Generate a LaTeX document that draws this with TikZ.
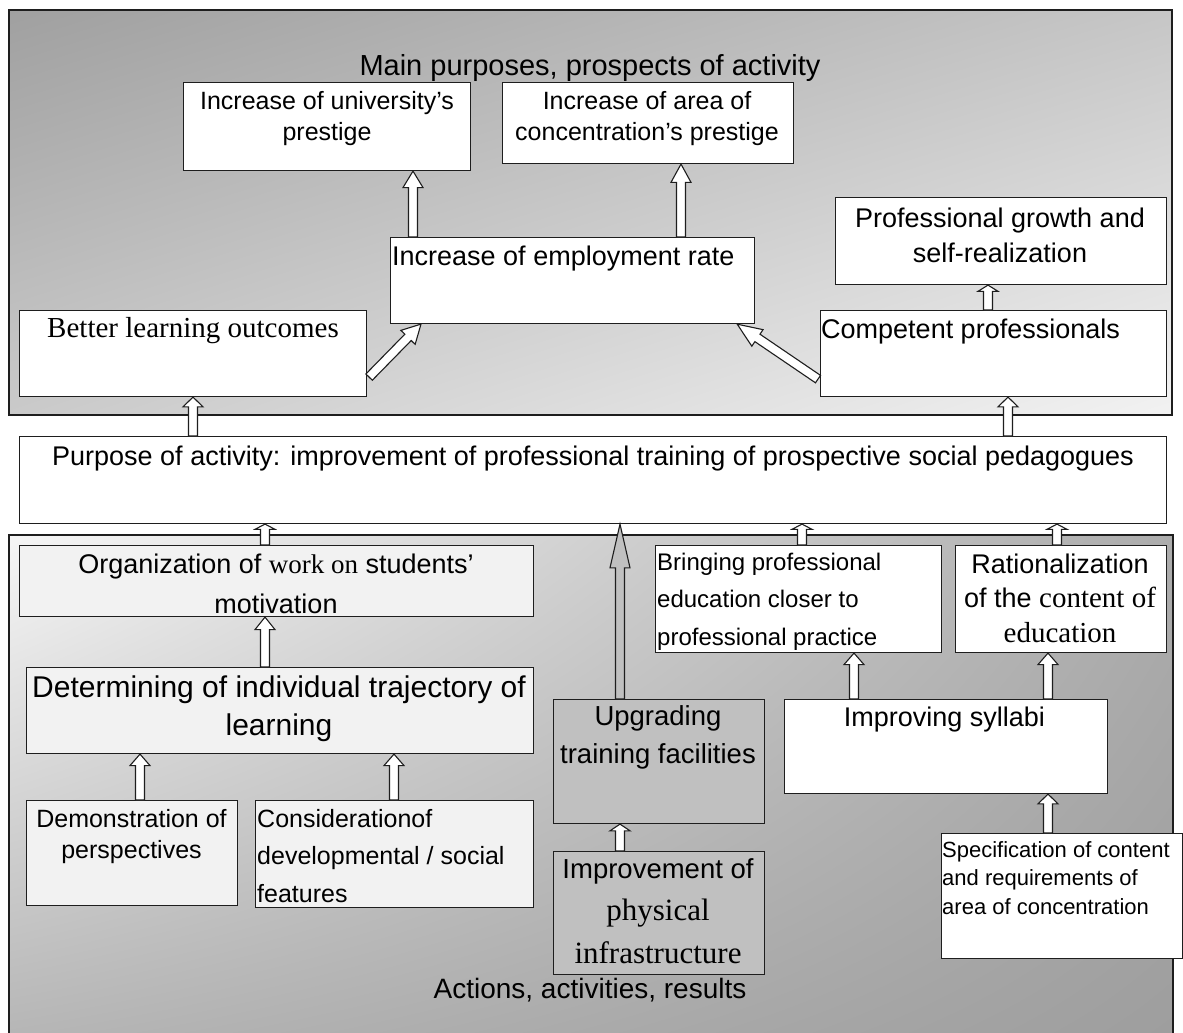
\documentclass[tikz,border=0pt]{standalone}
\usepackage{fontspec}
\setmainfont{Liberation Sans}
\newfontfamily\rmtext{Liberation Serif}
\usetikzlibrary{calc,shadings}

% multi-line text whose reference point is the first baseline
\newcommand\stack[2]{\begin{tabular}[t]{@{}#1@{}}#2\end{tabular}}

% framed box given by its corners (x0,y0)-(x1,y1)
\newcommand\cornerbox[6]{%
  \node[box, fill=#6, minimum width={(#4-#2)*1pt}, minimum height={(#5-#3)*1pt}] (#1) at (#2,#3) {};}

% hollow block arrow from point #2 to point #3, fill #1
\newcommand\blockarrow[3][white]{%
  \path let \p1=(#2), \p2=(#3),
    \n1={atan2(\y2-\y1,\x2-\x1)},
    \n2={veclen(\x2-\x1,\y2-\y1)} in
    \pgfextra{\xdef\baX{\x1}\xdef\baY{\y1}\xdef\baA{\n1}\xdef\baL{\n2}};
  \pgfmathsetmacro\baLL{\baL}%
  \pgfmathsetmacro\baA{\baA}%
  \pgfmathsetmacro\baB{0.75*\baLL}%
  \draw[arrowline, fill=#1, shift={(\baX,\baY)}, rotate=\baA]
    (0pt,-4.5pt) -- (\baB pt,-4.5pt) -- (\baB pt,-10pt) -- (\baLL pt,0pt)
    -- (\baB pt,10pt) -- (\baB pt,4.5pt) -- (0pt,4.5pt) -- cycle;
}

\definecolor{lightfill}{HTML}{F2F2F2}
\definecolor{grayfill}{HTML}{C0C0C0}
\definecolor{edge}{HTML}{1E1E1E}
\definecolor{topUL}{HTML}{A0A0A0}
\definecolor{topUR}{HTML}{C6C6C6}
\definecolor{topLL}{HTML}{CACACA}
\definecolor{topLR}{HTML}{F2F2F2}
\definecolor{botUL}{HTML}{F6F6F6}
\definecolor{botUR}{HTML}{ACACAC}
\definecolor{botLL}{HTML}{B6B6B6}
\definecolor{botLR}{HTML}{9E9E9E}

\begin{document}
\begin{tikzpicture}[x=1pt,y=-1pt,
  box/.style={draw=edge, line width=1.1pt, inner sep=0pt, anchor=north west},
  arrowline/.style={draw=edge, line width=1.1pt, line join=miter},
  paneledge/.style={draw=edge, line width=1.6pt},
  txt/.style={inner sep=0pt, text=black},
  s22/.style={txt, font=\fontsize{22}{28.5}\selectfont},
  s24/.style={txt, font=\fontsize{24}{37.5}\selectfont},
  s25/.style={txt, font=\fontsize{25}{30}\selectfont},
  s27/.style={txt, font=\fontsize{27}{33}\selectfont},
  s29/.style={txt, font=\fontsize{29}{35}\selectfont},
  s30/.style={txt, font=\fontsize{30}{38}\selectfont}]

\useasboundingbox (0,0) rectangle (1183,1033);
\fill[white] (0,0) rectangle (1183,1033);

% ---- upper panel: goals and prospects
\shade[upper left=topUL, upper right=topUR, lower left=topLL, lower right=topLR]
  (9,10) rectangle (1172,415);
\draw[paneledge] (9,10) rectangle (1172,415);

% ---- lower panel: actions and results
\shade[upper left=botUL, upper right=botUR, lower left=botLL, lower right=botLR]
  (9,535) rectangle (1173,1033);
\draw[paneledge] (9,1040) -- (9,535) -- (1173,535) -- (1173,1040);

% ---- boxes
\cornerbox{univ}{183}{82}{470}{170}{white}
\cornerbox{area}{502}{82}{793}{163}{white}
\cornerbox{emp}{390}{237}{754}{323}{white}
\cornerbox{better}{19}{310}{366}{396}{white}
\cornerbox{growth}{835}{197}{1166}{284}{white}
\cornerbox{comp}{820}{310}{1166}{396}{white}
\cornerbox{purpose}{19}{436}{1166}{523}{white}
\cornerbox{org}{19}{545}{533}{616}{lightfill}
\cornerbox{det}{26}{667}{533}{753}{lightfill}
\cornerbox{demo}{26}{800}{237}{905}{lightfill}
\cornerbox{consid}{255}{800}{533}{907}{lightfill}
\cornerbox{upg}{553}{699}{764}{823}{grayfill}
\cornerbox{impr}{553}{851}{764}{974}{grayfill}
\cornerbox{bring}{655}{545}{941}{652}{white}
\cornerbox{rat}{955}{545}{1166}{652}{white}
\cornerbox{syl}{784}{699}{1107}{793}{white}
\cornerbox{spec}{941}{833}{1182}{958}{white}

% ---- texts
\node[s29, anchor=base] (title) at (590,75) {Main purposes, prospects of activity};
\node[s25, anchor=base] (univ-t) at (327,110) {\stack{c}{Increase of university’s\\prestige}};
\node[txt, font=\fontsize{25}{31.5}\selectfont, anchor=base] (area-t) at (647,109)
  {\stack{c}{Increase of area of\\concentration’s prestige}};
\node[s27, anchor=base west] (emp-t) at (392,265) {Increase of employment rate};
\node[txt, font=\rmtext\fontsize{29}{35}\selectfont, anchor=base] (better-t) at (193,337) {Better learning outcomes};
\node[txt, font=\fontsize{27}{35}\selectfont, anchor=base] (growth-t) at (1000,227)
  {\stack{c}{Professional growth and\\self-realization}};
\node[s27, anchor=base west] (comp-t) at (821,338) {Competent professionals};
\node[s27, anchor=base] (purpose-t) at (593,465)
  {Purpose of activity: improvement of professional training of prospective social pedagogues};
\node[txt, font=\fontsize{27}{40}\selectfont, anchor=base] (org-t) at (276,573)
  {\stack{c}{Organization of {\rmtext work on} students’\\motivation}};
\node[s30, anchor=base] (det-t) at (279,697)
  {\stack{c}{Determining of individual trajectory of\\learning}};
\node[txt, font=\fontsize{25}{31}\selectfont, anchor=base] (demo-t) at (131.5,827)
  {\stack{c}{Demonstration of\\perspectives}};
\node[txt, font=\fontsize{25}{37.5}\selectfont, anchor=base west] (consid-t) at (257,827)
  {\stack{l}{Considerationof\\developmental / social\\features}};
\node[txt, font=\fontsize{27.5}{38}\selectfont, anchor=base] (upg-t) at (658,725)
  {\stack{c}{Upgrading\\training facilities}};
\node[txt, font=\fontsize{27.5}{42.5}\selectfont, anchor=base] (impr-t) at (658,878)
  {\stack{c}{Improvement of\\{\rmtext\fontsize{31}{42.5}\selectfont physical}\\{\rmtext\fontsize{31}{42.5}\selectfont infrastructure}}};
\node[s24, anchor=base west] (bring-t) at (657,570)
  {\stack{l}{Bringing professional\\education closer to\\professional practice}};
\node[txt, font=\fontsize{27}{34.5}\selectfont, anchor=base] (rat-t) at (1060,573)
  {\stack{c}{Rationalization\\of the {\rmtext\fontsize{29}{34.5}\selectfont content of}\\{\rmtext\fontsize{29}{34.5}\selectfont education}}};
\node[s27, anchor=base] (syl-t) at (944.5,726) {Improving syllabi};
\node[s22, anchor=base west] (spec-t) at (942,857)
  {\stack{l}{Specification of content\\and requirements of\\area of concentration}};
\node[txt, font=\fontsize{28}{34}\selectfont, anchor=base] (actions) at (590,998) {Actions, activities, results};

% ---- connectors (block arrows)
\blockarrow{$(emp.north west)+(23,0)$}{$(univ.south west)+(230,0)$}
\blockarrow{$(emp.north west)+(291,0)$}{$(area.south west)+(179,0)$}
\blockarrow{$(better.south east)+(2,-20)$}{$(emp.south west)+(31,0)$}
\blockarrow{$(comp.south west)+(-2,-18)$}{$(emp.south east)+(-18,0)$}
\blockarrow{$(comp.north west)+(168,0)$}{$(growth.south west)+(153,0)$}
\blockarrow{$(purpose.north west)+(174,0)$}{$(better.south west)+(174,0)$}
\blockarrow{$(purpose.north west)+(989,0)$}{$(comp.south west)+(188,0)$}
\blockarrow{$(org.north west)+(246,0)$}{$(purpose.south west)+(246,0)$}
\blockarrow[grayfill]{$(upg.north west)+(67,0)$}{$(purpose.south west)+(601,0)$}
\blockarrow{$(bring.north west)+(147,0)$}{$(purpose.south west)+(783,0)$}
\blockarrow{$(rat.north west)+(102,0)$}{$(purpose.south west)+(1038,0)$}
\blockarrow{$(det.north west)+(239,0)$}{$(org.south west)+(246,0)$}
\blockarrow{$(demo.north west)+(114,0)$}{$(det.south west)+(114,0)$}
\blockarrow{$(consid.north west)+(139,0)$}{$(det.south west)+(368,0)$}
\blockarrow{$(impr.north west)+(67,0)$}{$(upg.south west)+(67,0)$}
\blockarrow{$(syl.north west)+(70,0)$}{$(bring.south west)+(199,0)$}
\blockarrow{$(syl.north west)+(264,0)$}{$(rat.south west)+(93,0)$}
\blockarrow{$(spec.north west)+(107,0)$}{$(syl.south west)+(264,0)$}

\end{tikzpicture}
\end{document}
